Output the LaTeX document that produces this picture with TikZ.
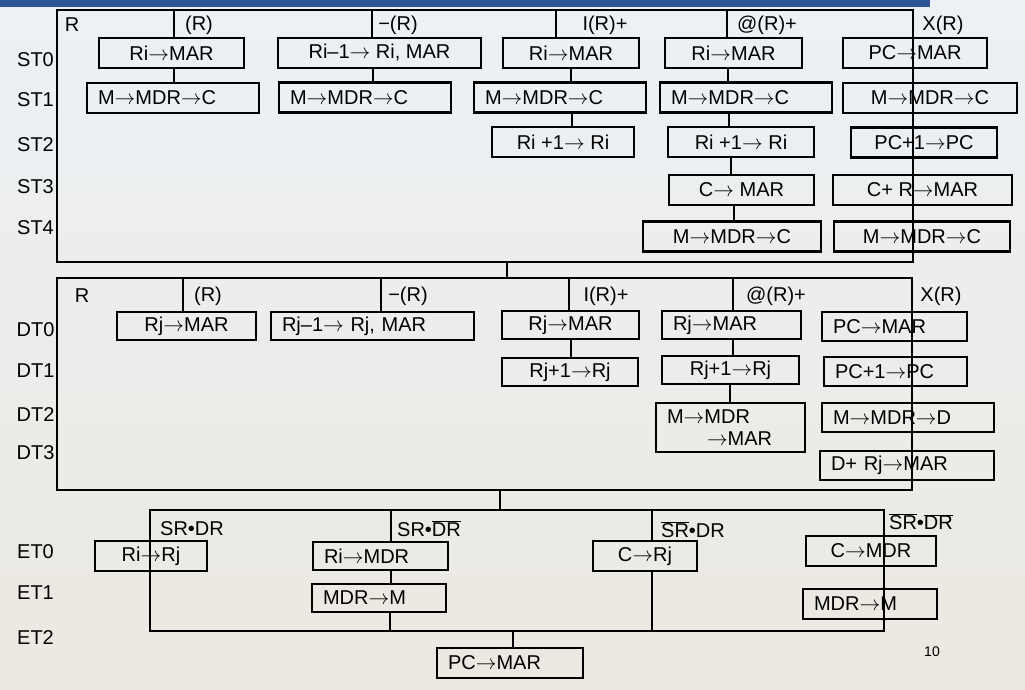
\documentclass[tikz,border=0pt]{standalone}
\usepackage{fontspec}
\setmainfont{Liberation Sans}
\definecolor{barblue}{RGB}{47,85,151}
\definecolor{skytop}{RGB}{236,241,246}
\definecolor{groundbot}{RGB}{236,232,224}
\newcommand\toarr{$\rightarrow$}
\newcommand\ovl[1]{$\overline{\mbox{#1}}$}

\begin{document}
\begin{tikzpicture}[
    x=1pt, y=-1pt,
    font=\fontsize{20}{20}\selectfont,
    frame/.style={draw, line width=2.2pt, inner sep=0pt},
    box/.style={draw, line width=2.2pt, inner sep=0pt, minimum height=30pt},
    lbox/.style={box, inner xsep=11pt, text width=#1, align=left},
    lbl/.style={inner sep=0pt},
    conn/.style={line width=2.2pt}
]
\useasboundingbox (0,0) rectangle (1025,689);
\shade[top color=skytop, bottom color=groundbot] (0,0) rectangle (1025,689);
\fill[barblue] (0,0) rectangle (930,7);

% source operand
\node (st) [frame, minimum width=856, minimum height=252] at (485,136) {};
\node (stR) [lbl] at (72,25) {R};
\node (stind) [lbl] at (199,25) {(R)};
\node (stdec) [lbl] at (398,25) {−(R)};
\node (stinc) [lbl] at (605,25) {I(R)+};
\node (stdef) [lbl] at (767,25) {@(R)+};
\node (stidx) [lbl] at (943,25) {X(R)};
\foreach \t/\y in {ST0/60, ST1/100, ST2/145, ST3/187, ST4/228}
    \node (\t) [lbl] at (35.5,\y) {\t};

\node (sta0) [box, minimum width=145] at (171.5,53) {Ri\toarr{}MAR};
\node (sta1) [lbox=150pt] at (173,98) {M\toarr{}MDR\toarr{}C};
\node (stb0) [box, minimum width=203] at (379.5,53) {Ri–1\toarr{} Ri, MAR};
\node (stb1) [lbox=150pt] at (365,97.5) {M\toarr{}MDR\toarr{}C};
\node (stc0) [box, minimum width=136] at (571,53) {Ri\toarr{}MAR};
\node (stc1) [lbox=150pt] at (560,97.5) {M\toarr{}MDR\toarr{}C};
\node (stc2) [box, minimum width=142] at (563,142) {Ri +1\toarr{} Ri};
\node (std0) [box, minimum width=137] at (733.5,53) {Ri\toarr{}MAR};
\node (std1) [lbox=150pt] at (746,97.5) {M\toarr{}MDR\toarr{}C};
\node (std2) [box, minimum width=146] at (741,142) {Ri +1\toarr{} Ri};
\node (std3) [box, minimum width=145] at (741.5,190) {C\toarr{} MAR};
\node (std4) [box, minimum width=178] at (732,236.5) {M\toarr{}MDR\toarr{}C};
\node (ste0) [box, minimum width=144] at (915,53) {PC\toarr{}MAR};
\node (ste1) [box, minimum width=174] at (930,98) {M\toarr{}MDR\toarr{}C};
\node (ste2) [box, minimum width=146] at (924,142.5) {PC+1\toarr{}PC};
\node (ste3) [box, minimum width=179] at (922.5,190) {C+ R\toarr{}MAR};
\node (ste4) [box, minimum width=176] at (922,236.5) {M\toarr{}MDR\toarr{}C};

\draw [conn] (174,0 |- st.north) -- (174,0 |- sta0.north);
\draw [conn] (174,0 |- sta0.south) -- (174,0 |- sta1.north);
\draw [conn] (372,0 |- st.north) -- (372,0 |- stb0.north);
\draw [conn] (373,0 |- stb0.south) -- (373,0 |- stb1.north);
\draw [conn] (556,0 |- st.north) -- (556,0 |- stc0.north);
\draw [conn] (571,0 |- stc0.south) -- (571,0 |- stc1.north);
\draw [conn] (572,0 |- stc1.south) -- (572,0 |- stc2.north);
\draw [conn] (727,0 |- st.north) -- (727,0 |- std0.north);
\draw [conn] (728,0 |- std0.south) -- (728,0 |- std1.north);
\draw [conn] (729,0 |- std1.south) -- (729,0 |- std2.north);
\draw [conn] (731,0 |- std2.south) -- (731,0 |- std3.north);
\draw [conn] (734,0 |- std3.south) -- (734,0 |- std4.north);

% destination operand
\node (dt) [frame, minimum width=855, minimum height=212] at (484.5,384) {};
\draw [conn] (507,0 |- st.south) -- (507,0 |- dt.north);
\node (dtR) [lbl] at (82,296) {R};
\node (dtind) [lbl] at (208,296) {(R)};
\node (dtdec) [lbl] at (408,296) {−(R)};
\node (dtinc) [lbl] at (606,296) {I(R)+};
\node (dtdef) [lbl] at (776,296) {@(R)+};
\node (dtidx) [lbl] at (941,296) {X(R)};
\foreach \t/\y in {DT0/330, DT1/371, DT2/415, DT3/453}
    \node (\t) [lbl] at (35.5,\y) {\t};

\node (dta0) [box, minimum width=139, minimum height=28] at (186.5,326) {Rj\toarr{}MAR};
\node (dtb0) [lbox=181pt, minimum height=28] at (372.5,326) {Rj–1\toarr{} Rj, MAR};
\node (dtc0) [box, minimum width=137, minimum height=28] at (570.5,325) {Rj\toarr{}MAR};
\node (dtc1) [box, minimum width=136, minimum height=28] at (570,372) {Rj+1\toarr{}Rj};
\node (dtd0) [lbox=117pt, minimum height=28] at (731.5,325) {Rj\toarr{}MAR};
\node (dtd1) [box, minimum width=137, minimum height=28] at (730.5,370) {Rj+1\toarr{}Rj};
\node (dtd2) [lbox=127pt, minimum height=49, font=\fontsize{20}{21}\selectfont] at (730.5,427.5)
    {M\toarr{}MDR\\[1pt]\hspace*{40pt}\toarr{}MAR};
\node (dte0) [lbox=123pt, minimum height=29] at (894.5,326.5) {PC\toarr{}MAR};
\node (dte1) [lbox=121pt, minimum height=29] at (895.5,371.5) {PC+1\toarr{}PC};
\node (dte2) [lbox=150pt, minimum height=29] at (908,417.5) {M\toarr{}MDR\toarr{}D};
\node (dte3) [lbox=152pt, minimum height=29] at (907,465.5) {D+ Rj\toarr{}MAR};

\draw [conn] (183,0 |- dt.north) -- (183,0 |- dta0.north);
\draw [conn] (381,0 |- dt.north) -- (381,0 |- dtb0.north);
\draw [conn] (569,0 |- dt.north) -- (569,0 |- dtc0.north);
\draw [conn] (571,0 |- dtc0.south) -- (571,0 |- dtc1.north);
\draw [conn] (733,0 |- dt.north) -- (733,0 |- dtd0.north);
\draw [conn] (733,0 |- dtd0.south) -- (733,0 |- dtd1.north);
\draw [conn] (730,0 |- dtd1.south) -- (730,0 |- dtd2.north);

% execute
\node (et) [frame, minimum width=734, minimum height=121] at (517,570.5) {};
\draw [conn] (500,0 |- dt.south) -- (500,0 |- et.north);
\node (etsd) [lbl] at (192,529) {SR•DR};
\node (etsnd) [lbl] at (429,529) {SR•\ovl{DR}};
\node (etnsd) [lbl] at (693,530) {\ovl{SR}•DR};
\node (etnsnd) [lbl] at (921,522) {\ovl{SR}•\ovl{DR}};
\foreach \t/\y in {ET0/552, ET1/593, ET2/638}
    \node (\t) [lbl] at (35.5,\y) {\t};

\node (eta0) [box, minimum width=112] at (151,556) {Ri\toarr{}Rj};
\node (etb0) [lbox=113pt, minimum height=28] at (380.5,556) {Ri\toarr{}MDR};
\node (etb1) [lbox=112pt, minimum height=28] at (379,598) {MDR\toarr{}M};
\node (etc0) [box, minimum width=104] at (645,556) {C\toarr{}Rj};
\node (etd0) [box, minimum width=130] at (871,551) {C\toarr{}MDR};
\node (etd1) [lbox=112pt] at (870,604) {MDR\toarr{}M};

\draw [conn] (391,0 |- et.north) -- (391,0 |- etb0.north);
\draw [conn] (391,0 |- etb0.south) -- (391,0 |- etb1.north);
\draw [conn] (390,0 |- etb1.south) -- (390,0 |- et.south);
\draw [conn] (652,0 |- et.north) -- (652,0 |- etc0.north);
\draw [conn] (652,0 |- etc0.south) -- (652,0 |- et.south);

\node (pc) [lbox=124pt] at (510,663) {PC\toarr{}MAR};
\draw [conn] (513,0 |- et.south) -- (513,0 |- pc.north);

\node (pgno) [lbl, font=\fontsize{14}{14}\selectfont] at (932,652) {10};
\end{tikzpicture}
\end{document}
